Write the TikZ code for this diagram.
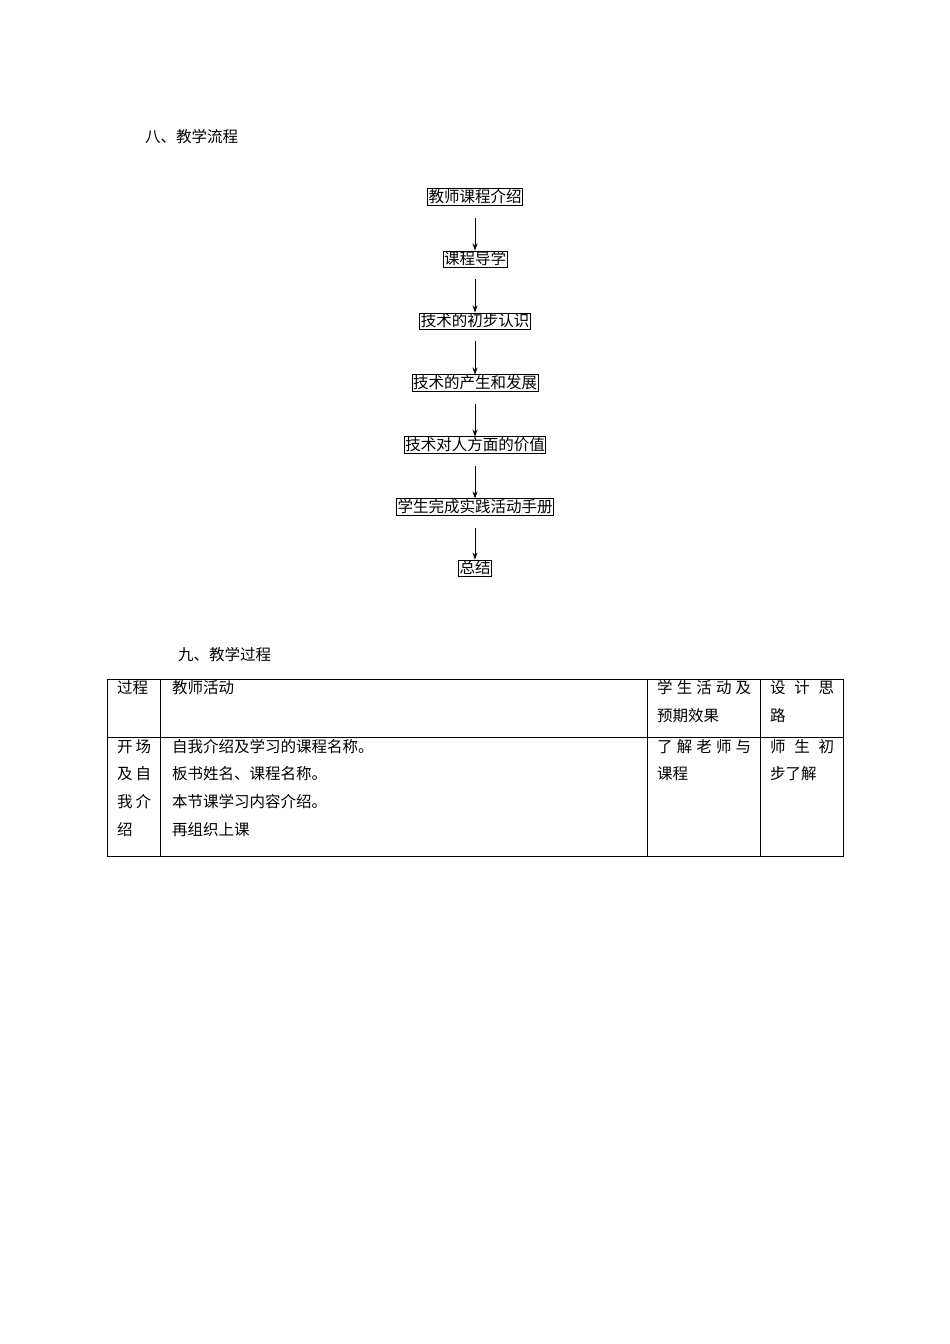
\documentclass[tikz,border=0pt]{standalone}
\usepackage{fontspec}
\usetikzlibrary{arrows.meta}
\setmainfont{Noto Sans CJK SC}
\begin{document}
\begin{tikzpicture}[x=1pt,y=-1pt,
  fbox/.style={draw,line width=0.6pt,inner sep=1pt,font=\fontsize{15.5}{18}\selectfont},
  txt/.style={anchor=west,inner sep=0pt,font=\fontsize{15.5}{18}\selectfont},
  arr/.style={-{Stealth[length=7pt,width=5pt]},line width=0.8pt},
  tl/.style={line width=0.9pt}]
\useasboundingbox (0,0) rectangle (950,1344);
\node[txt] (t1) at (145,137) {八、教学流程};
\foreach \n/\y/\s in {a/197/教师课程介绍,b/259/课程导学,c/321/技术的初步认识,d/383/技术的产生和发展,e/445/技术对人方面的价值,f/507/学生完成实践活动手册,g/568/总结}
  \node[fbox] (\n) at (475,\y) {\s};
\foreach \p/\q in {a/b,b/c,c/d,d/e,e/f,f/g}
  \draw[arr] (\p.south) ++(0,12) coordinate (s\p) (s\p) -- (\q.north);
\node[txt] (t2) at (178,655) {九、教学过程};
\coordinate (TL) at (107,679); \coordinate (BR) at (843,856);
\draw[tl] (TL) rectangle (BR);
\draw[tl] (107,737) coordinate (r1) -- (843,737) coordinate (r2);
\foreach \x in {160,647,760} \draw[tl] (\x,679) coordinate (c\x) -- (\x,856);
\node[txt] (h1) at (117,688) {过程};
\node[txt] (h2) at (172,688) {教师活动};
\node[txt] (h3) at (657,688) {\makebox[94pt][s]{学\hfill 生\hfill 活\hfill 动\hfill 及}};
\node[txt] (h3b) at (657,716) {预期效果};
\node[txt] (h4) at (770,688) {\makebox[64pt][s]{设\hfill 计\hfill 思}};
\node[txt] (h4b) at (770,716) {路};
\node[txt] (p1) at (117,747) {\makebox[34pt][s]{开\hfill 场}};
\node[txt] (p2) at (117,774) {\makebox[34pt][s]{及\hfill 自}};
\node[txt] (p3) at (117,802) {\makebox[34pt][s]{我\hfill 介}};
\node[txt] (p4) at (117,830) {绍};
\node[txt] (q1) at (172,747) {自我介绍及学习的课程名称。};
\node[txt] (q2) at (172,774) {板书姓名、课程名称。};
\node[txt] (q3) at (172,802) {本节课学习内容介绍。};
\node[txt] (q4) at (172,830) {再组织上课};
\node[txt] (s1) at (657,747) {\makebox[94pt][s]{了\hfill 解\hfill 老\hfill 师\hfill 与}};
\node[txt] (s2) at (657,774) {课程};
\node[txt] (d1) at (770,747) {\makebox[64pt][s]{师\hfill 生\hfill 初}};
\node[txt] (d2) at (770,774) {步了解};
\end{tikzpicture}
\end{document}
